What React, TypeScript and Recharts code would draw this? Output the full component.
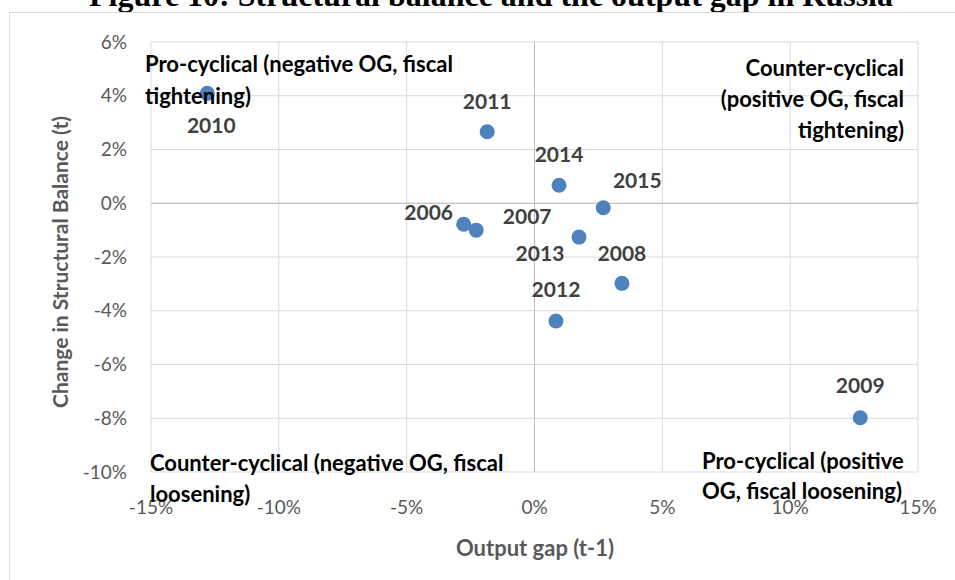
import React from 'react';
import {
  ScatterChart,
  Scatter,
  XAxis,
  YAxis,
  CartesianGrid,
  ReferenceLine,
} from 'recharts';

// Output gap (t-1) vs change in structural balance (t), Russia, in %
const years = ['2006', '2007', '2008', '2009', '2010', '2011', '2012', '2013', '2014', '2015'];
const outputGap = [-2.77, -2.28, 3.42, 12.74, -12.8, -1.85, 0.84, 1.74, 0.96, 2.69];
const balanceChange = [-0.78, -1.0, -2.98, -7.98, 4.09, 2.66, -4.38, -1.26, 0.67, -0.17];

const xTicks = [-15, -10, -5, 0, 5, 10, 15];
const yTicks = [-10, -8, -6, -4, -2, 0, 2, 4, 6];

// where each year label sits relative to its dot (px)
const labelOffset: Record<string, [number, number]> = {
  '2006': [-35, -13],
  '2007': [51, -15],
  '2008': [0, -31],
  '2009': [0, -33],
  '2010': [4, 31],
  '2011': [0, -31],
  '2012': [0, -32],
  '2013': [-39, 15],
  '2014': [0, -32],
  '2015': [34, -28],
};

const FONT = 'Lato, "Open Sans", sans-serif';
const DOT = '#4F81BD';

const chartData = years.map((year, i) => ({
  year,
  og: outputGap[i],
  sb: balanceChange[i],
}));

const DotWithLabel = (props: any) => {
  const { cx, cy, payload } = props;
  const [dx, dy] = labelOffset[payload.year] || [0, -30];
  return (
    <g>
      <circle cx={cx} cy={cy} r={7.5} fill={DOT} />
      <text
        x={cx + dx}
        y={cy + dy}
        textAnchor="middle"
        dominantBaseline="central"
        fill="#404040"
        fontFamily={FONT}
        fontWeight={700}
        fontSize={21}
      >
        {payload.year}
      </text>
    </g>
  );
};

const noteStyle = {
  fontFamily: FONT,
  fontWeight: 700,
  fontSize: 22,
  fill: '#000',
};

export default function App() {
  return (
    <div
      style={{
        position: 'fixed',
        left: 0,
        top: 0,
        width: 955,
        height: 580,
        overflow: 'hidden',
        background: '#fff',
      }}
    >
      <div
        style={{
          position: 'absolute',
          left: 0,
          top: -21,
          width: 982,
          textAlign: 'center',
          fontFamily: '"Liberation Serif", "Times New Roman", serif',
          fontWeight: 700,
          fontSize: 32,
          lineHeight: 1,
          whiteSpace: 'nowrap',
        }}
      >
        Figure 10: Structural balance and the output gap in Russia
      </div>
      <div
        style={{
          position: 'absolute',
          left: 9,
          top: 12,
          width: 1200,
          height: 1200,
          borderLeft: '1px solid #d9d9d9',
          borderTop: '1px solid #d9d9d9',
        }}
      />
      <div style={{ position: 'absolute', left: 0, top: 0 }}>
        <ScatterChart width={955} height={580} margin={{ top: 42, right: 37, bottom: 0, left: 0 }}>
          <CartesianGrid stroke="#d9d9d9" strokeWidth={1} />
          <XAxis
            type="number"
            dataKey="og"
            domain={[-15, 15]}
            ticks={xTicks}
            interval={0}
            height={108}
            axisLine={false}
            tickLine={false}
            tickSize={0}
            tickMargin={29}
            tickFormatter={(v) => `${v}%`}
            tick={{ fill: '#595959', fontSize: 19, fontFamily: FONT }}
          />
          <YAxis
            type="number"
            dataKey="sb"
            domain={[-10, 6]}
            ticks={yTicks}
            interval={0}
            width={151}
            axisLine={false}
            tickLine={false}
            tickSize={0}
            tickMargin={24}
            tickFormatter={(v) => `${v}%`}
            tick={{ fill: '#595959', fontSize: 19, fontFamily: FONT }}
          />
          <ReferenceLine x={0} stroke="#bfbfbf" />
          <ReferenceLine y={0} stroke="#bfbfbf" />
          <Scatter data={chartData} shape={DotWithLabel} isAnimationActive={false} />
        </ScatterChart>
      </div>
      <svg
        width={955}
        height={580}
        style={{ position: 'absolute', left: 0, top: 0, pointerEvents: 'none' }}
      >
        <text
          x={59}
          y={262}
          transform="rotate(-90 59 262)"
          textAnchor="middle"
          dominantBaseline="central"
          fill="#595959"
          fontFamily={FONT}
          fontWeight={700}
          fontSize={21}
        >
          Change in Structural Balance (t)
        </text>
        <text
          x={535}
          y={547}
          textAnchor="middle"
          dominantBaseline="central"
          fill="#595959"
          fontFamily={FONT}
          fontWeight={700}
          fontSize={22}
        >
          Output gap (t-1)
        </text>

        <text style={noteStyle} x={145} y={63} dominantBaseline="central">
          Pro-cyclical (negative OG, fiscal
        </text>
        <text style={noteStyle} x={145} y={95} dominantBaseline="central">
          tightening)
        </text>

        <text style={noteStyle} x={904} y={67} textAnchor="end" dominantBaseline="central">
          Counter-cyclical
        </text>
        <text style={noteStyle} x={904} y={98} textAnchor="end" dominantBaseline="central">
          (positive OG, fiscal
        </text>
        <text style={noteStyle} x={904} y={129} textAnchor="end" dominantBaseline="central">
          tightening)
        </text>

        <text style={noteStyle} x={150} y={462} dominantBaseline="central">
          Counter-cyclical (negative OG, fiscal
        </text>
        <text style={noteStyle} x={150} y={493} dominantBaseline="central">
          loosening)
        </text>

        <text style={noteStyle} x={702} y={460} dominantBaseline="central">
          Pro-cyclical (positive
        </text>
        <text style={noteStyle} x={702} y={490} dominantBaseline="central">
          OG, fiscal loosening)
        </text>
      </svg>
    </div>
  );
}
